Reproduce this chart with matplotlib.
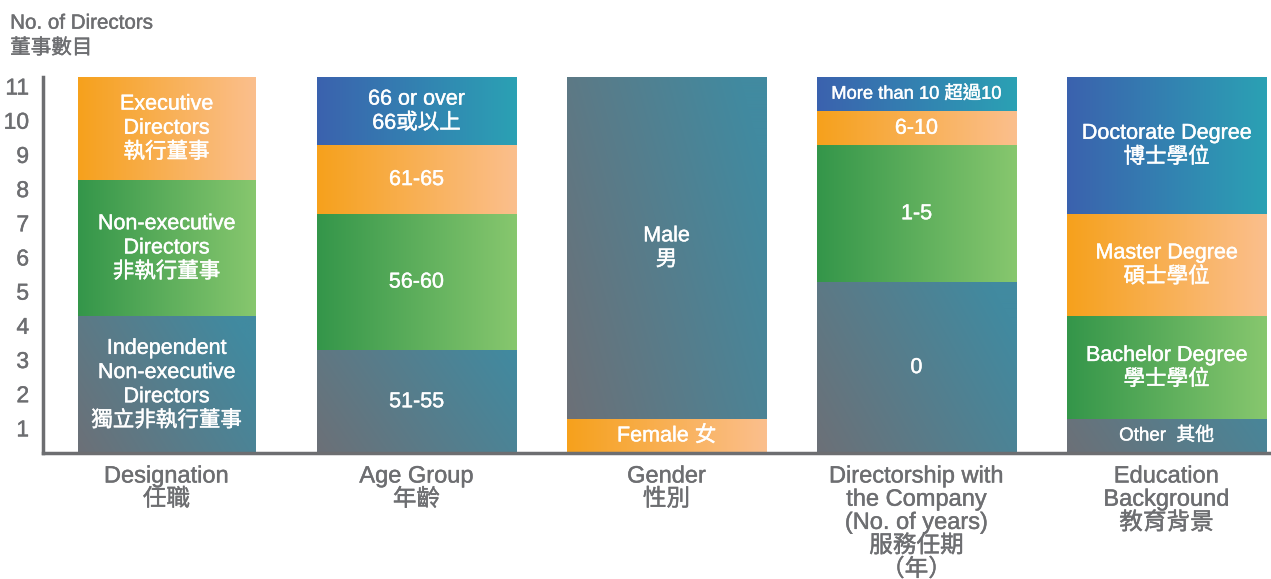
import numpy as np
import matplotlib
matplotlib.use('Agg')
from matplotlib import pyplot as plt
from matplotlib import patheffects

plt.rcParams['font.family'] = ['Liberation Sans', 'Noto Sans CJK TC']

categories = ['Designation\n任職', 'Age Group\n年齡', 'Gender\n性別',
              'Directorship with\nthe Company\n(No. of years)\n服務任期\n（年）',
              'Education\nBackground\n教育背景']

# segments per category, bottom to top: (label, count, colour key)
designation = [('Independent\nNon-executive\nDirectors\n獨立非執行董事', 4, 'gray'),
               ('Non-executive\nDirectors\n非執行董事', 4, 'green'),
               ('Executive\nDirectors\n執行董事', 3, 'orange')]
age_group = [('51-55', 3, 'gray'), ('56-60', 4, 'green'),
             ('61-65', 2, 'orange'), ('66 or over\n66或以上', 2, 'blue')]
gender = [('Female 女', 1, 'orange'), ('Male\n男', 10, 'gray')]
directorship = [('0', 5, 'gray'), ('1-5', 4, 'green'),
                ('6-10', 1, 'orange'), ('More than 10 超過10', 1, 'blue')]
education = [('Other  其他', 1, 'gray'), ('Bachelor Degree\n學士學位', 3, 'green'),
             ('Master Degree\n碩士學位', 3, 'orange'), ('Doctorate Degree\n博士學位', 4, 'blue')]

stacks = [designation, age_group, gender, directorship, education]
bar_widths = [0.708, 0.796, 0.796, 0.796, 0.796]

gradients = {
    'gray': ('#6c7077', '#418aa0'),
    'green': ('#34964a', '#87c76e'),
    'orange': ('#f6a11c', '#fbbf8d'),
    'blue': ('#3b62ae', '#2ba1b4'),
}
label_size = {'More than 10 超過10': 13.2, 'Other  其他': 13.5}
grey = '#6d6e71'


def draw_segment(ax, x0, y0, w, h, key):
    c0 = np.array(matplotlib.colors.to_rgb(gradients[key][0]))
    c1 = np.array(matplotlib.colors.to_rgb(gradients[key][1]))
    xs = np.linspace(0, 1, 200)
    ys = np.linspace(0, 1, 100)
    X, Y = np.meshgrid(xs, ys)
    if key == 'gray':
        t = np.clip(0.75 * X + 0.35 * Y * min(h, 4) / 4, 0, 1)
    else:
        t = X
    img = c0[None, None, :] * (1 - t[..., None]) + c1[None, None, :] * t[..., None]
    ax.imshow(img, extent=(x0, x0 + w, y0, y0 + h), origin='lower',
              aspect='auto', interpolation='bilinear', zorder=2)


fig = plt.figure(figsize=(12.71, 5.79), dpi=100)
ax = fig.add_axes([0.0338, 0.2176, 0.9662, 0.6494])

white_fx = [patheffects.withStroke(linewidth=0.3, foreground='white')]
grey_fx = [patheffects.withStroke(linewidth=0.3, foreground=grey)]

for i, (stack, w) in enumerate(zip(stacks, bar_widths)):
    bottom = 0
    for label, count, key in stack:
        draw_segment(ax, i - w / 2, bottom, w, count, key)
        ax.text(i, bottom + count / 2, label, ha='center', va='center',
                color='white', fontsize=label_size.get(label, 15.5),
                linespacing=1.2, zorder=3, path_effects=white_fx)
        bottom += count

ax.set_xlim(-0.494, 4.418)
ax.set_ylim(0, 11)

ax.set_yticks(np.arange(1, 12) - 0.25)
ax.set_yticklabels([str(v) for v in range(1, 12)], fontsize=16.5, color=grey)
ax.tick_params(axis='y', length=0, pad=10)

ax.set_xticks(range(len(categories)))
ax.set_xticklabels(categories, fontsize=17, color=grey, linespacing=1.07, va='top')
ax.tick_params(axis='x', length=0, pad=9)
for lbl in ax.get_xticklabels() + ax.get_yticklabels():
    lbl.set_path_effects(grey_fx)

for side in ['top', 'right']:
    ax.spines[side].set_visible(False)
for side in ['left', 'bottom']:
    ax.spines[side].set_color(grey)
    ax.spines[side].set_linewidth(2.5)

fig.text(0.008, 0.96, 'No. of Directors', fontsize=14.8, color=grey, va='center',
         path_effects=grey_fx)
fig.text(0.008, 0.917, '董事數目', fontsize=14.8, color=grey, va='center',
         path_effects=grey_fx)

plt.savefig('out.png', dpi=100)
